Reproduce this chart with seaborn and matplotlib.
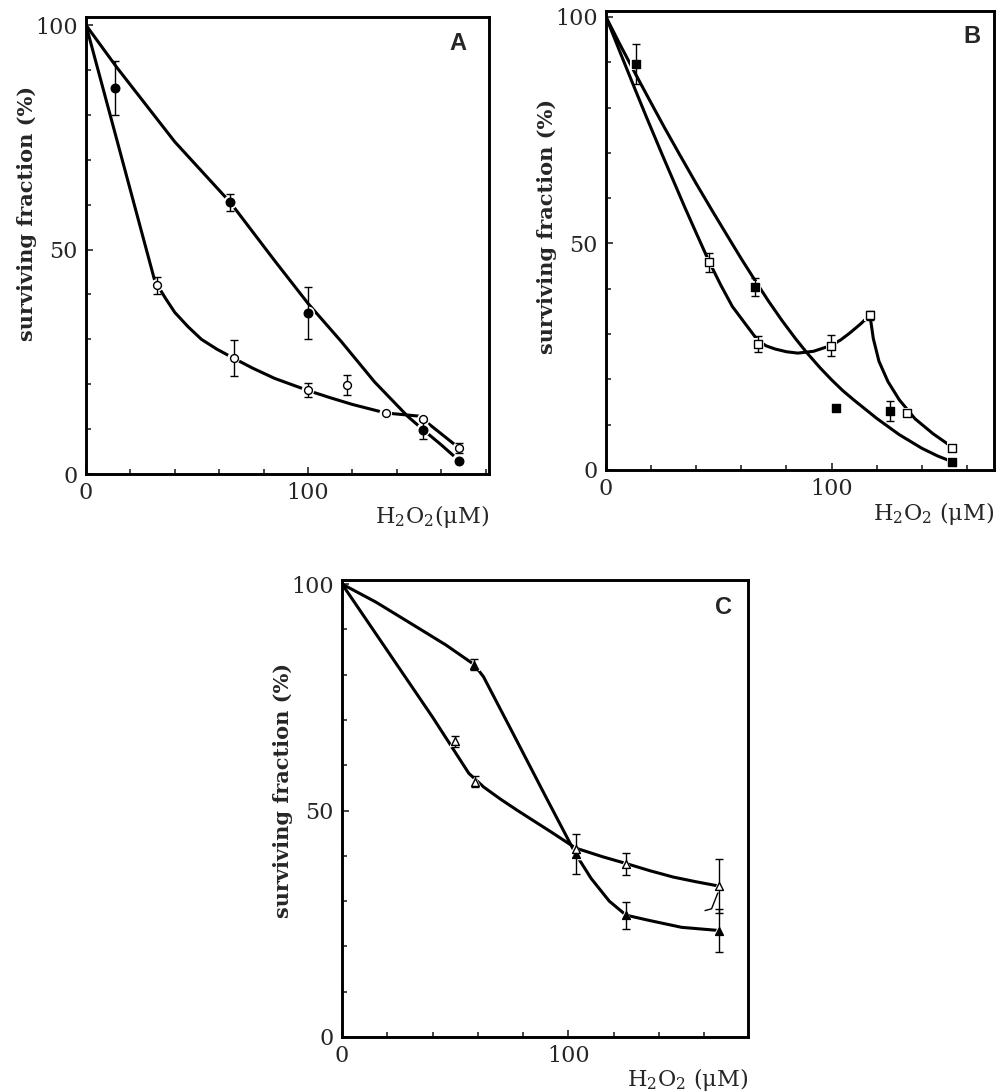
import numpy as np
import matplotlib
matplotlib.use("Agg")
import matplotlib.pyplot as plt
import seaborn as sns
from matplotlib.ticker import MultipleLocator

# ---- Panel A: filled / open circles ----
a_filled_x = [13, 65, 100, 152, 168]
a_filled_y = [86, 60.5, 35.8, 9.9, 3]
a_filled_err = [6, 1.8, 5.8, 2, 0]
a_open_x = [32, 66.5, 100, 117.5, 135, 152, 168]
a_open_y = [42, 25.8, 18.7, 19.8, 13.5, 12.2, 5.8]
a_open_err = [1.8, 4, 1.6, 2.3, 0, 0, 1.2]
a_fit_filled_x = [0, 14, 40, 65, 85, 100, 115, 130, 145, 152, 160, 168]
a_fit_filled_y = [100, 90.5, 74, 60.5, 47.5, 38, 29.5, 20.5, 12.8, 9.8, 6.5, 3]
a_fit_open_x = [0, 31, 36, 40, 46, 52, 59, 66.5, 75, 85, 100, 110, 120, 135, 150, 168]
a_fit_open_y = [100, 43, 39, 36, 32.8, 30, 27.8, 25.8, 23.6, 21.3, 18.6, 17, 15.5, 13.6, 12.9, 5.8]

# ---- Panel B: filled / open squares ----
b_filled_x = [13.3, 66, 102, 126, 153.6]
b_filled_y = [89.6, 40.4, 13.7, 13.1, 1.8]
b_filled_err = [4.5, 2, 0, 2.2, 0]
b_open_x = [45.5, 67.3, 99.9, 117, 133.3, 153.6]
b_open_y = [45.8, 27.8, 27.4, 34.2, 12.5, 4.9]
b_open_err = [2, 1.7, 2.3, 1, 0, 0]
b_fit_filled_x = [0, 6, 13.3, 20, 26, 33, 40, 47, 55, 60, 66, 72, 78, 84, 89, 95,
                  100, 105, 110, 120, 130, 140, 147, 153.6]
b_fit_filled_y = [100, 94.1, 87.2, 81.0, 75.5, 69.3, 63.2, 57.3, 50.7, 46.6, 41.9, 37.3, 33.0,
                  29.0, 25.9, 22.5, 19.9, 17.5, 15.4, 11.4, 7.8, 4.8, 3.1, 1.8]
b_fit_open_x = [0, 6, 12, 18, 25, 30, 35, 40, 45.5, 51, 56, 62, 67.3, 71, 75, 80, 85, 92,
                99.9, 104, 108, 113, 117, 118.5, 121, 125, 130, 137, 145, 153.6]
b_fit_open_y = [100, 92.5, 85.1, 77.8, 69.5, 63.7, 57.9, 52.3, 46.2, 40.7, 36.1, 32.1, 28.6,
                27.4, 26.7, 26.1, 25.8, 26.2, 27.5, 28.7, 30.2, 32.3, 34.2, 29, 24, 19.5,
                15.5, 11.3, 8.0, 5]

# ---- Panel C: filled / open triangles ----
c_filled_x = [58.4, 103.2, 125.4, 166.6]
c_filled_y = [82.2, 40.4, 26.9, 23.5]
c_filled_err = [1.2, 4.5, 3, 4.7]
c_open_x = [50, 58.8, 103.2, 125.4, 166.6]
c_open_y = [65.3, 56.4, 41.5, 38.2, 33.3]
c_open_err = [1.2, 1.2, 0, 2.4, 6]
c_fit_filled_x = [0, 15, 33, 46, 58.4, 62.5, 75, 90, 103.2, 110, 118, 125.4, 135, 150, 166.6]
c_fit_filled_y = [100, 96, 90.5, 86.5, 82.2, 79.5, 67.5, 53, 40.4, 35, 30, 26.9, 25.8, 24.2, 23.5]
c_fit_open_x = [0, 20, 40, 56, 62.5, 70, 77.2, 85, 91.9, 103.2, 115, 125.4, 136, 146.3, 156, 166.6]
c_fit_open_y = [100, 85.3, 70.6, 58.2, 55.2, 52.5, 50.1, 47.6, 45.4, 41.7, 39.8, 38.3, 36.7, 35.3, 34.3, 33.3]
c_hook_x = [160.3, 163.2, 166.9]
c_hook_y = [27.9, 28.3, 33]

sns.set_style("ticks")
plt.rcParams["font.family"] = ["DejaVu Serif"]
plt.rcParams["mathtext.fontset"] = "dejavuserif"

fig = plt.figure(figsize=(10.01, 10.92), dpi=100)


def draw_series(ax, x, y, err, marker, filled, size):
    x = np.asarray(x); y = np.asarray(y); err = np.asarray(err)
    # white halo to break the curve at the symbol
    sns.scatterplot(x=x, y=y, marker=marker, s=size * 2.6, color="white",
                    edgecolor="none", linewidth=0, zorder=3, ax=ax)
    m = err > 0
    ax.errorbar(x[m], y[m], yerr=err[m], fmt="none", ecolor="black",
                elinewidth=1.0, capsize=2.6, capthick=1.0, zorder=4)
    sns.scatterplot(x=x, y=y, marker=marker, s=size,
                    color="black" if filled else "white",
                    edgecolor="black", linewidth=1.0, zorder=5, ax=ax)


def setup(ax, xmax, ymax, letter, xlabel, label_y, letter_pos):
    ax.set_xlim(0, xmax)
    ax.set_ylim(0, ymax)
    ax.xaxis.set_major_locator(MultipleLocator(100))
    ax.xaxis.set_minor_locator(MultipleLocator(20))
    ax.yaxis.set_major_locator(MultipleLocator(50))
    ax.yaxis.set_minor_locator(MultipleLocator(10))
    ax.tick_params(which="both", direction="in", width=1.2, labelsize=16)
    ax.tick_params(which="major", length=5, pad=6)
    ax.tick_params(which="minor", length=3.5)
    for sp in ax.spines.values():
        sp.set_linewidth(2.1)
        sp.set_color("black")
    ax.set_xlabel("")
    ax.set_ylabel("surviving fraction (%)", fontsize=15, fontweight="bold", va="center")
    ax.yaxis.set_label_coords(-59 / (ax.get_position().width * 1001), label_y)
    ax.text(1.0, -0.094, xlabel, transform=ax.transAxes, ha="right", va="center", fontsize=16)
    ax.text(letter_pos[0], letter_pos[1], letter, transform=ax.transAxes, ha="right", va="top",
            fontsize=17, fontweight="bold", family="Liberation Sans")


# Panel A
axA = fig.add_axes([0.0859, 0.5659, 0.4026, 0.4185])
sns.lineplot(x=a_fit_filled_x, y=a_fit_filled_y, sort=False, estimator=None, color="black", lw=2.2, ax=axA)
sns.lineplot(x=a_fit_open_x, y=a_fit_open_y, sort=False, estimator=None, color="black", lw=2.2, ax=axA)
draw_series(axA, a_filled_x, a_filled_y, a_filled_err, "o", True, 38)
draw_series(axA, a_open_x, a_open_y, a_open_err, "o", False, 32)
setup(axA, 181.5, 101.8, "A", r"H$_2$O$_2$($\mathrm{\mu}$M)", 0.57, (0.945, 0.967))

# Panel B
axB = fig.add_axes([0.6054, 0.5696, 0.3876, 0.4203])
sns.lineplot(x=b_fit_filled_x, y=b_fit_filled_y, sort=False, estimator=None, color="black", lw=2.2, ax=axB)
sns.lineplot(x=b_fit_open_x, y=b_fit_open_y, sort=False, estimator=None, color="black", lw=2.2, ax=axB)
draw_series(axB, b_filled_x, b_filled_y, b_filled_err, "s", True, 28)
draw_series(axB, b_open_x, b_open_y, b_open_err, "s", False, 26)
setup(axB, 172, 101.3, "B", r"H$_2$O$_2$ ($\mathrm{\mu}$M)", 0.53, (0.964, 0.969))

# Panel C
axC = fig.add_axes([0.3417, 0.0504, 0.4056, 0.4185])
sns.lineplot(x=c_fit_filled_x, y=c_fit_filled_y, sort=False, estimator=None, color="black", lw=2.2, ax=axC)
sns.lineplot(x=c_fit_open_x, y=c_fit_open_y, sort=False, estimator=None, color="black", lw=2.2, ax=axC)
sns.lineplot(x=c_hook_x, y=c_hook_y, sort=False, estimator=None, color="black", lw=1.0, ax=axC)
draw_series(axC, c_filled_x, c_filled_y, c_filled_err, "^", True, 32)
draw_series(axC, c_open_x, c_open_y, c_open_err, "^", False, 32)
setup(axC, 179.3, 100.9, "C", r"H$_2$O$_2$ ($\mathrm{\mu}$M)", 0.54, (0.96, 0.965))

fig.savefig("out.png", dpi=100)
